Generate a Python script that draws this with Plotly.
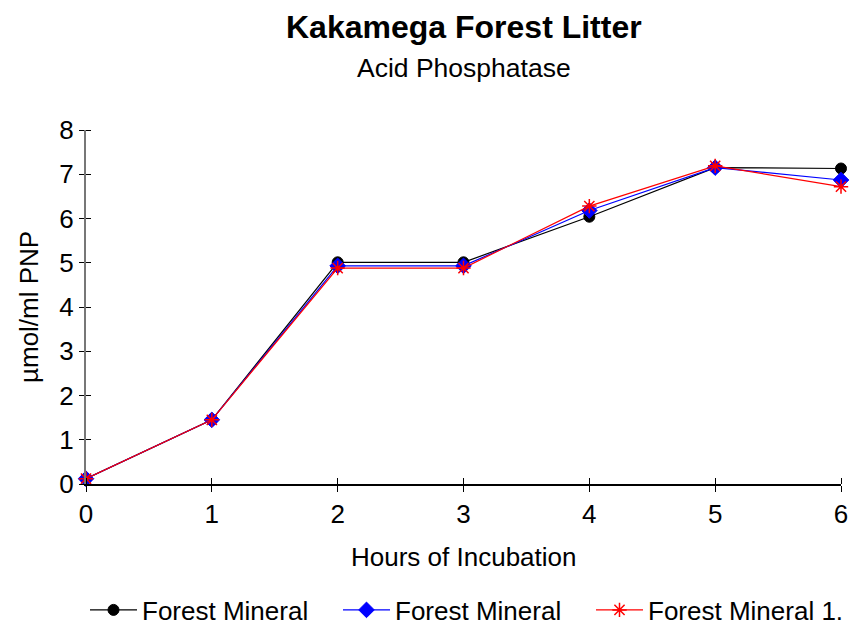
import plotly.graph_objects as go

hours = [0, 1, 2, 3, 4, 5, 6]
series_names = ["Forest Mineral", "Forest Mineral", "Forest Mineral 1."]
black_vals = [0.12, 1.45, 5.01, 5.01, 6.04, 7.15, 7.13]
blue_vals = [0.12, 1.45, 4.93, 4.93, 6.18, 7.15, 6.87]
red_vals = [0.12, 1.45, 4.88, 4.88, 6.28, 7.19, 6.72]
y_ticks = [0, 1, 2, 3, 4, 5, 6, 7, 8]
x_ticks = [0, 1, 2, 3, 4, 5, 6]

FONT = "Liberation Sans, Arial, sans-serif"
W, H = 851, 625

fig = go.Figure()
styles = [
    (black_vals, "black", "circle", 11, 1),
    (blue_vals, "blue", "diamond", 12, 1),
    (red_vals, "red", "asterisk-open", 12, 1.5),
]
for (vals, col, sym, sz, lw), name in zip(styles, series_names):
    fig.add_trace(go.Scatter(
        x=hours, y=vals, mode="lines+markers", name=name,
        line=dict(color=col, width=1.2),
        marker=dict(color=col, symbol=sym, size=sz, line=dict(color=col, width=lw)),
        cliponaxis=False,
    ))

fig.update_layout(
    width=W, height=H,
    paper_bgcolor="white", plot_bgcolor="white",
    margin=dict(l=86, r=10, t=130, b=141, autoexpand=False),
    font=dict(family=FONT, color="black", size=26),
    showlegend=True,
    legend=dict(orientation="h", xref="container", x=85 / W, xanchor="left",
                yref="container", y=1 - 610 / H, yanchor="middle",
                font=dict(size=26), itemwidth=47, tracegroupgap=0,
                entrywidth=191, entrywidthmode="pixels"),
    annotations=[
        dict(text="<b>Kakamega Forest Litter</b>", xref="paper", yref="paper",
             x=0.5, y=(484 - 27) / 354, xanchor="center", yanchor="middle",
             showarrow=False, font=dict(size=32)),
        dict(text="Acid Phosphatase", xref="paper", yref="paper",
             x=0.5, y=(484 - 68) / 354, xanchor="center", yanchor="middle",
             showarrow=False, font=dict(size=26.5)),
        dict(text="Hours of Incubation", xref="paper", yref="paper",
             x=0.5, y=(484 - 557) / 354, xanchor="center", yanchor="middle",
             showarrow=False, font=dict(size=26)),
        dict(text="µmol/ml PNP", xref="paper", yref="paper",
             x=(29 - 86) / 755, y=(484 - 307) / 354, xanchor="center", yanchor="middle",
             textangle=-90, showarrow=False, font=dict(size=26)),
    ],
)
fig.update_xaxes(range=[0, 6], tickvals=x_ticks, ticks="outside", ticklen=6,
                 tickcolor="black", showline=True, linecolor="black", linewidth=1.5,
                 minor=dict(tickvals=x_ticks, ticks="inside", ticklen=6, tickcolor="black"),
                 showgrid=False, zeroline=False, tickfont=dict(size=26), automargin=False)
fig.update_yaxes(range=[0, 8], tickvals=y_ticks, ticks="outside", ticklen=5,
                 tickcolor="black", showline=True, linecolor="#777777", linewidth=2,
                 minor=dict(tickvals=y_ticks, ticks="inside", ticklen=5, tickcolor="black"),
                 showgrid=False, zeroline=False, tickfont=dict(size=26), automargin=False)

fig.write_html("out.html", config={"displayModeBar": False},
               post_script="document.body.style.margin='0';document.body.style.overflow='hidden';")
